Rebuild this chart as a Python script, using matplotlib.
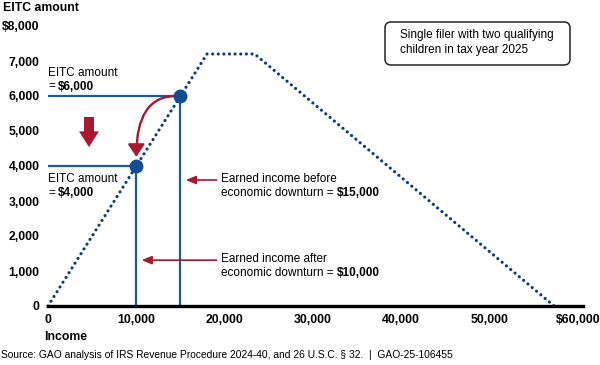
import matplotlib
matplotlib.use("Agg")
import matplotlib.pyplot as plt
from matplotlib.patches import FancyBboxPatch, FancyArrowPatch
from matplotlib.transforms import IdentityTransform

plt.rcParams['font.family'] = ['Liberation Sans', 'DejaVu Sans']

# EITC schedule (single filer, two children, 2025)
income = [0, 18000, 23400, 57300]
eitc = [0, 7200, 7200, 0]

# the two example points
before_income, before_eitc = 15000, 6000
after_income, after_eitc = 10000, 4000

xticks = [0, 10000, 20000, 30000, 40000, 50000, 60000]
xlabels = ['0', '10,000', '20,000', '30,000', '40,000', '50,000', '$60,000']
yticks = [0, 1000, 2000, 3000, 4000, 5000, 6000, 7000, 8000]
ylabels = ['0', '1,000', '2,000', '3,000', '4,000', '5,000', '6,000', '7,000', '$8,000']

navy = '#0b3b78'
blue = '#1b5a9a'
dot_blue = '#114d8f'
red = '#a6192e'
fs = 8.5

fig = plt.figure(figsize=(6, 3.65), dpi=100)
ax = fig.add_axes([48 / 600, 59 / 365, 535 / 600, 280 / 365])
ax.set_xlim(0, 60570)
ax.set_ylim(0, 8000)

# dotted EITC schedule
ax.plot(income, eitc, color=navy, lw=2.3, linestyle=(0, (0.01, 1.75)),
        dash_capstyle='round', clip_on=False, zorder=3)

# guide lines for before / after
for xi, yi in [(before_income, before_eitc), (after_income, after_eitc)]:
    ax.plot([0, xi], [yi, yi], color=blue, lw=1.6, zorder=2)
    ax.plot([xi, xi], [0, yi], color=blue, lw=1.6, zorder=2)
ax.plot([before_income, after_income], [before_eitc, after_eitc], 'o',
        color=dot_blue, ms=9, zorder=5)

# curved red arrow from before-point to after-point
curve = FancyArrowPatch((before_income - 500, before_eitc), (after_income, after_eitc + 260),
                        connectionstyle='angle3,angleA=0,angleB=90',
                        arrowstyle='-|>,head_length=0.75,head_width=0.5', mutation_scale=10,
                        color=red, lw=1.7, shrinkA=0, shrinkB=0, zorder=4)
ax.add_patch(curve)

# big down arrow
ax.arrow(4640, 5400, 0, -860, width=1130, head_width=2260, head_length=450,
         length_includes_head=True, color=red, lw=0)

# EITC amount labels
def two_part(x, y, normal, bold):
    t = ax.text(x, y, normal, fontsize=fs, va='center', ha='left')
    ax.annotate(bold, xy=(1, 0.5), xycoords=t, xytext=(2.4, 0), textcoords='offset points',
                fontsize=fs, fontweight='bold', va='center', ha='left')

ax.text(0, 6650, 'EITC amount', fontsize=fs, va='center')
two_part(0, 6270, '=', '$6,000')
ax.text(0, 3630, 'EITC amount', fontsize=fs, va='center')
two_part(0, 3230, '=', '$4,000')

# small pointer arrows + explanations
for tip, y, l1, val in [(15600, 3600, 'Earned income before', '$15,000'),
                        (10600, 1310, 'Earned income after', '$10,000')]:
    ax.annotate('', xy=(tip, y), xytext=(19100, y),
                arrowprops=dict(arrowstyle='-|>,head_length=0.6,head_width=0.25',
                                mutation_scale=10, color=red, lw=1.2,
                                shrinkA=0, shrinkB=0))
    ax.text(19600, y + 30, l1, fontsize=fs, va='center')
    two_part(19600, y - 370, 'economic downturn =', val)

# axes styling
ax.set_xticks(xticks)
ax.set_xticklabels(xlabels, fontsize=8.8, fontweight='bold')
ax.set_yticks(yticks)
ax.set_yticklabels(ylabels, fontsize=8.8, fontweight='bold')
ax.tick_params(axis='both', length=0)
ax.tick_params(axis='y', pad=6)
ax.tick_params(axis='x', pad=6)
for s in ['left', 'right', 'top']:
    ax.spines[s].set_visible(False)
ax.spines['bottom'].set_linewidth(2.4)
ax.spines['bottom'].set_color('black')
ax.spines['bottom'].set_zorder(6)

fig.text(3 / 600, 1 - 8 / 365, 'EITC amount', fontsize=8.8, fontweight='bold', va='center')
fig.text(44 / 600, 1 - 337 / 365, 'Income', fontsize=8.8, fontweight='bold', va='center')
fig.text(1 / 600, 1 - 355 / 365,
         'Source: GAO analysis of IRS Revenue Procedure 2024-40, and 26 U.S.C. \u00a7 32.  |  GAO-25-106455',
         fontsize=7.35, va='center')

# note box
box = FancyBboxPatch((385, 300), 185, 43, boxstyle='round,pad=0,rounding_size=6',
                     transform=IdentityTransform(), fc='white', ec='#222222', lw=1.1)
fig.patches.append(box)
fig.text(400 / 600, 1 - 42.5 / 365, 'Single filer with two qualifying\nchildren in tax year 2025',
         fontsize=fs, va='center', ha='left', linespacing=1.25)

fig.savefig('out.png', dpi=100)
